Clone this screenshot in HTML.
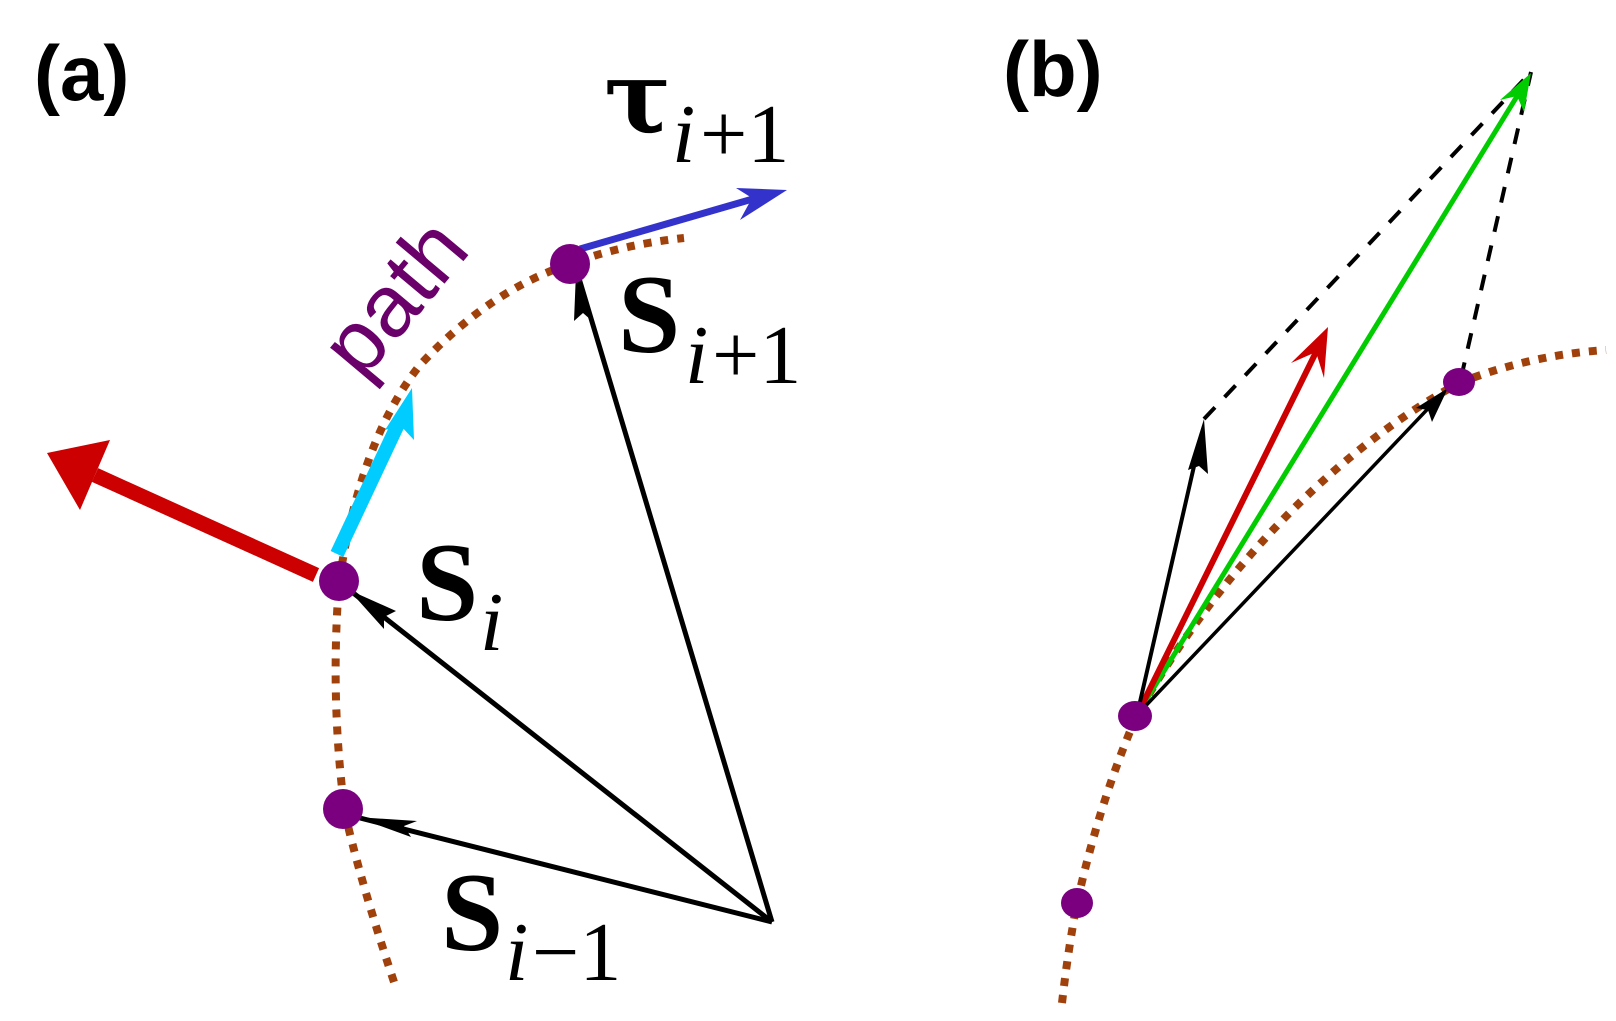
<!DOCTYPE html>
<html><head><meta charset="utf-8"><style>
html,body{margin:0;padding:0;background:#fff;}
svg{display:block;}
.lab{font-family:"Liberation Sans",sans-serif;font-weight:bold;font-size:78px;fill:#000;}
.S{font-family:"Liberation Serif",serif;font-weight:bold;font-size:112px;fill:#000;}
.sub{font-family:"Liberation Serif",serif;font-style:italic;font-size:84px;fill:#000;}
.subn{font-family:"Liberation Serif",serif;font-size:84px;fill:#000;}
</style></head><body>
<svg width="1616" height="1021" viewBox="0 0 1616 1021" xmlns="http://www.w3.org/2000/svg">
<!-- Panel labels -->
<text x="34" y="100" class="lab">(a)</text>
<text x="1003" y="96" class="lab">(b)</text>

<!-- Panel a dotted path -->
<path d="M394,982 Q360,880 345,813 Q330,700 339,583 Q360,440 420,365 Q490,290 570,264 Q620,245 684,238" fill="none" stroke="#a0400a" stroke-width="8" stroke-dasharray="8,9"/>

<!-- red arrow -->
<line x1="316" y1="575" x2="95" y2="475" stroke="#cc0000" stroke-width="15"/>
<polygon points="47,453 110,440 95,475 80,510" fill="#cc0000"/>
<!-- cyan arrow -->
<line x1="337" y1="554" x2="400" y2="420" stroke="#00ccff" stroke-width="14"/>
<polygon points="412,388 414,440 400,425 385,430" fill="#00ccff"/>
<!-- blue tau arrow -->
<line x1="580" y1="249" x2="770" y2="194" stroke="#3333cc" stroke-width="7"/>
<polygon points="787,190 740,220 752,198 736,188" fill="#3333cc"/>

<!-- black vectors from origin -->
<g stroke="#000" stroke-width="5" fill="none">
<line x1="772" y1="922" x2="352" y2="592"/>
<line x1="772" y1="922" x2="578" y2="275"/>
<line x1="772" y1="922" x2="360" y2="818"/>
</g>
<polygon points="349,590 396,611 384,617 384,629" fill="#000"/>
<polygon points="576,272 591,320 583,313 574,321" fill="#000"/>
<polygon points="356,817 417,821 404,826 411,837" fill="#000"/>

<!-- dots a -->
<circle cx="339" cy="581" r="20" fill="#7a0080"/>
<circle cx="343" cy="809" r="20" fill="#7a0080"/>
<circle cx="570" cy="264" r="20" fill="#7a0080"/>

<!-- path label -->
<text x="0" y="0" transform="translate(362,382) rotate(-50)" font-family="Liberation Sans, sans-serif" font-size="88" fill="#6a006a">path</text>

<!-- labels -->
<text x="604" y="132" class="S" style="font-family:'DejaVu Serif',serif;font-size:100px">τ</text>
<text x="672" y="162" class="sub">i</text><text x="700" y="162" class="subn">+1</text>
<text x="618" y="352" class="S">S</text>
<text x="685" y="383" class="sub">i</text><text x="712" y="383" class="subn">+1</text>
<text x="416" y="620" class="S">S</text>
<text x="480" y="650" class="sub">i</text>
<text x="441" y="950" class="S">S</text>
<text x="505" y="980" class="sub">i</text><text x="532" y="980" class="subn">−1</text>

<!-- Panel b dotted path -->
<path d="M1062,1003 Q1068,950 1077,903 Q1100,800 1137,715 C1190,620 1300,470 1459,383 Q1530,355 1606,350" fill="none" stroke="#a0400a" stroke-width="8" stroke-dasharray="8,9"/>

<!-- dashed -->
<g stroke="#000" stroke-width="4" stroke-dasharray="16,14" fill="none">
<line x1="1204" y1="419" x2="1531" y2="72"/>
<line x1="1461" y1="378" x2="1531" y2="72"/>
</g>
<!-- green -->
<line x1="1137" y1="715" x2="1527" y2="80" stroke="#00cc00" stroke-width="5"/>
<polygon points="1531,73 1524,112 1517,96 1500,100" fill="#00cc00"/>
<!-- red -->
<line x1="1137" y1="715" x2="1322" y2="340" stroke="#cc0000" stroke-width="6"/>
<polygon points="1328,327 1324,378 1316,352 1291,363" fill="#cc0000"/>
<!-- black arrows -->
<line x1="1137" y1="715" x2="1200" y2="440" stroke="#000" stroke-width="4"/>
<polygon points="1204,419 1208,474 1199,466 1188,470" fill="#000"/>
<line x1="1137" y1="715" x2="1440" y2="396" stroke="#000" stroke-width="3.5"/>
<polygon points="1448,388 1432,422 1428,410 1416,408" fill="#000"/>

<!-- dots b -->
<ellipse cx="1135" cy="716" rx="17" ry="15" fill="#7a0080"/>
<ellipse cx="1077" cy="903" rx="16" ry="15" fill="#7a0080"/>
<ellipse cx="1459" cy="382" rx="16" ry="14" fill="#7a0080"/>
</svg>
</body></html>
